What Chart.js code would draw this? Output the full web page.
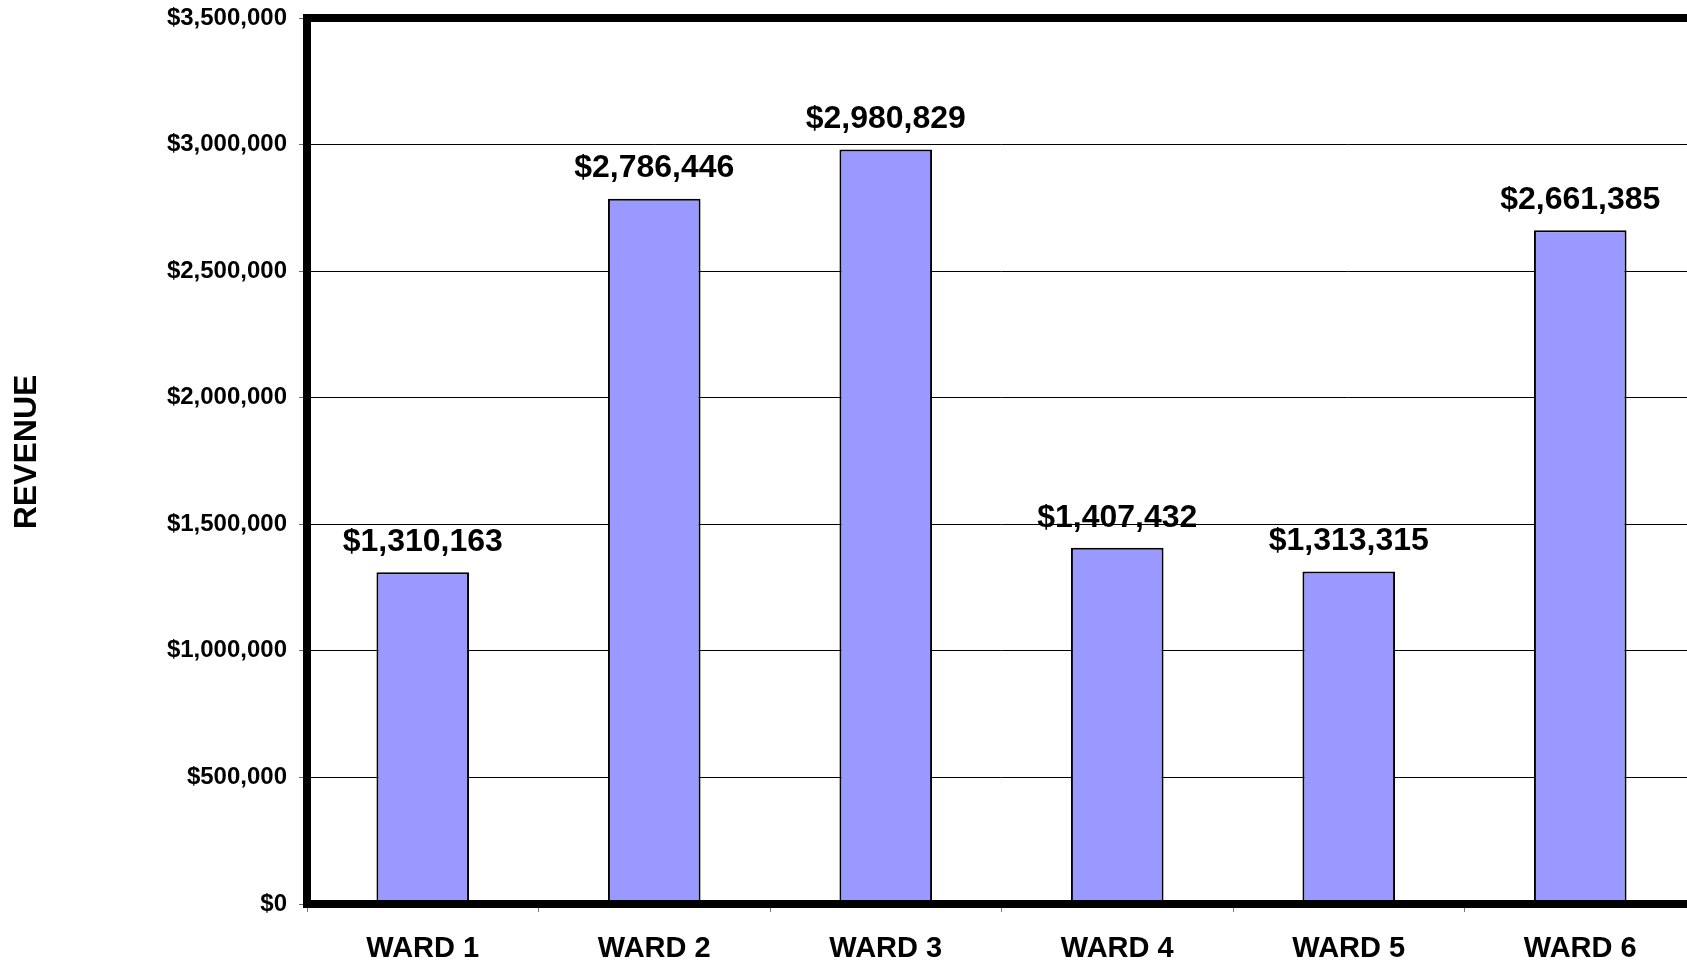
<!DOCTYPE html>
<html>
<head>
<meta charset="utf-8">
<title>Revenue by Ward</title>
<script src="https://cdn.jsdelivr.net/npm/chart.js@4.4.1/dist/chart.umd.min.js"></script>
<style>
  html, body { margin: 0; padding: 0; background: #fff; overflow: hidden; }
  #wrap { width: 1700px; height: 962px; }
</style>
</head>
<body>
<div id="wrap">
  <canvas id="revenueChart" width="1700" height="962"></canvas>
</div>
<script>
const wards = ["WARD 1", "WARD 2", "WARD 3", "WARD 4", "WARD 5", "WARD 6"];
const revenue = [1310163, 2786446, 2980829, 1407432, 1313315, 2661385];
const yMax = 3500000;
const yStep = 500000;
const yTitle = "REVENUE";

const FONT = "'Liberation Sans', Arial, sans-serif";

function money(v) {
  return "$" + Math.round(v).toLocaleString("en-US");
}

// heavy frame around the plot area (top, left, bottom) + rotated axis title
const frame = {
  id: "frame",
  afterDraw(chart) {
    const { ctx, chartArea: a } = chart;
    ctx.save();
    ctx.strokeStyle = "#000";
    ctx.lineWidth = 8;
    ctx.lineCap = "square";
    ctx.beginPath();
    ctx.moveTo(a.right + 10, a.top);
    ctx.lineTo(a.left, a.top);
    ctx.lineTo(a.left, a.bottom);
    ctx.lineTo(a.right + 10, a.bottom);
    ctx.stroke();

    // title sits a little above the axis midpoint
    ctx.translate(27, (a.top + a.bottom) / 2 - 9);
    ctx.rotate(-Math.PI / 2);
    ctx.fillStyle = "#000";
    ctx.font = "bold 32px " + FONT;
    ctx.textAlign = "center";
    ctx.textBaseline = "middle";
    ctx.fillText(yTitle, 0, 0);
    ctx.restore();
  }
};

// value printed above each bar
const valueLabels = {
  id: "valueLabels",
  afterDatasetsDraw(chart) {
    const ctx = chart.ctx;
    const meta = chart.getDatasetMeta(0);
    ctx.save();
    ctx.fillStyle = "#000";
    ctx.font = "bold 32px " + FONT;
    ctx.textAlign = "center";
    ctx.textBaseline = "middle";
    meta.data.forEach((bar, i) => {
      ctx.fillText(money(revenue[i]), bar.x, bar.y - 30);
    });
    ctx.restore();
  }
};

const ctx = document.getElementById("revenueChart").getContext("2d");
new Chart(ctx, {
  type: "bar",
  data: {
    labels: wards,
    datasets: [{
      data: revenue,
      backgroundColor: "#9999ff",
      borderColor: "#000",
      borderWidth: 2,
      borderSkipped: false,
      categoryPercentage: 1,
      barPercentage: 0.4
    }]
  },
  options: {
    responsive: false,
    animation: false,
    devicePixelRatio: 1,
    layout: { padding: { top: 18, right: 4, left: 0, bottom: 0 } },
    plugins: {
      legend: { display: false },
      tooltip: { enabled: false }
    },
    scales: {
      x: {
        grid: {
          drawOnChartArea: false,
          drawTicks: true,
          tickLength: 8,
          tickColor: "#777",
          lineWidth: 1
        },
        border: { display: false },
        ticks: {
          color: "#000",
          padding: 20,
          font: { family: FONT, size: 29, weight: "bold" }
        },
        afterFit(s) {
          s.height = 58;
          s.paddingLeft = 0;
          s.paddingRight = 0;
        }
      },
      y: {
        min: 0,
        max: yMax,
        grid: {
          color: "#000",
          lineWidth: 1,
          tickLength: 8,
          tickColor: "#666"
        },
        border: { display: false },
        ticks: {
          stepSize: yStep,
          color: "#000",
          padding: 12,
          font: { family: FONT, size: 24, weight: "bold" },
          callback: (v) => money(v)
        },
        afterFit(s) {
          s.width = 307;
          s.paddingTop = 0;
          s.paddingBottom = 0;
        }
      }
    }
  },
  plugins: [frame, valueLabels]
});
</script>
</body>
</html>
